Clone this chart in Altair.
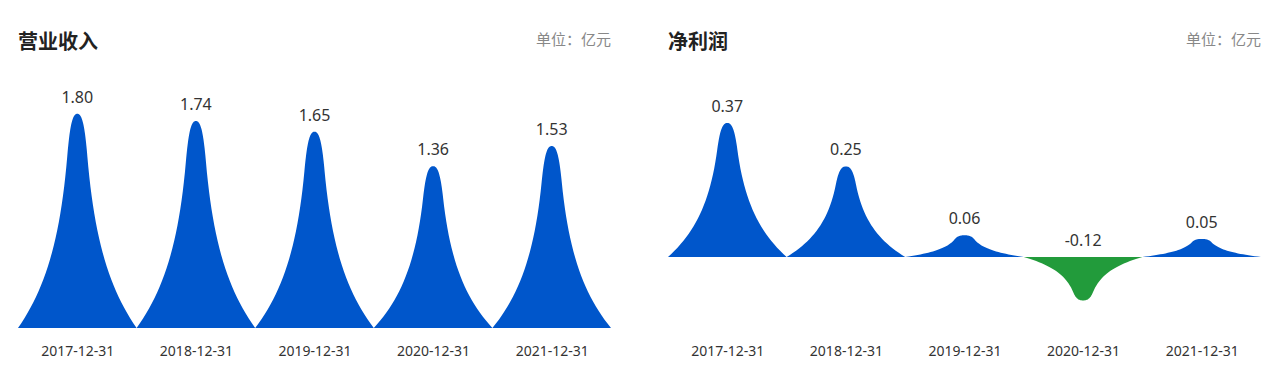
import altair as alt
import pandas as pd

# ---- data ----
dates = ["2017-12-31", "2018-12-31", "2019-12-31", "2020-12-31", "2021-12-31"]
revenue = [1.80, 1.74, 1.65, 1.36, 1.53]
profit = [0.37, 0.25, 0.06, -0.12, 0.05]
titles = ["营业收入", "净利润"]
unit_text = "单位：亿元"

# ---- style: spike outline as two cubic Bezier segments in
#      (fraction of half-width, fraction of height) space: base -> shoulder -> tip
SPIKE_SEGMENTS = [
    [(1.0, 0.0), (0.55, 0.18), (0.29, 0.404), (0.17, 0.8)],
    [(0.17, 0.8), (0.125, 0.9485), (0.08, 1.0), (0.0, 1.0)],
]
STEPS = 24

BLUE = "#0056CB"
GREEN = "#229B3B"
FONT = "Noto Sans, Noto Sans CJK SC"
CJK = "Noto Sans CJK SC"
W, H = 593, 238


def half_profile():
    pts = []
    for seg in SPIKE_SEGMENTS:
        (x0, y0), (x1, y1), (x2, y2), (x3, y3) = seg
        start = 0 if not pts else 1
        for k in range(start, STEPS + 1):
            t = k / STEPS
            a, b, c, d = (1 - t) ** 3, 3 * (1 - t) ** 2 * t, 3 * (1 - t) * t ** 2, t ** 3
            pts.append((a * x0 + b * x1 + c * x2 + d * x3, a * y0 + b * y1 + c * y2 + d * y3))
    return pts  # from base (u=1) to tip (u=0)


def spike_table(values):
    half = half_profile()
    outline = [(-u, h) for u, h in half] + [(u, h) for u, h in half[::-1][1:]]
    rows = []
    for i, v in enumerate(values):
        for u, h in outline:
            rows.append({"idx": i, "x": i + 0.5 * u, "y": v * h,
                         "sign": "pos" if v >= 0 else "neg"})
    return pd.DataFrame(rows)


label_expr = "[" + ",".join("'%s'" % d for d in dates) + "][round(datum.value)]"


def panel(title, values, domain):
    x_enc = alt.X("x:Q",
                  scale=alt.Scale(domain=[-0.5, 4.5], nice=False, zero=False),
                  axis=alt.Axis(values=list(range(len(dates))), labelExpr=label_expr,
                                title=None, ticks=False, domain=False, grid=False,
                                labelPadding=16, labelFontSize=14, labelColor="#333333",
                                labelFont=FONT))
    y_enc = alt.Y("y:Q", scale=alt.Scale(domain=domain, nice=False, zero=False), axis=None)

    area = alt.Chart(spike_table(values)).mark_area(interpolate="linear").encode(
        x=x_enc, y=y_enc, y2=alt.datum(0),
        detail="idx:N",
        color=alt.Color("sign:N", scale=alt.Scale(domain=["pos", "neg"], range=[BLUE, GREEN]),
                        legend=None),
    )

    lab_df = pd.DataFrame({"x": list(range(len(values))), "value": values,
                           "label": ["%.2f" % v for v in values]})
    labels = alt.Chart(lab_df).transform_calculate(
        y="max(datum.value, 0)"
    ).mark_text(baseline="bottom", dy=-8, fontSize=16, font=FONT, color="#333333").encode(
        x=x_enc, y=y_enc, text="label:N"
    )

    ttl = alt.Chart(pd.DataFrame({"t": [title]})).mark_text(
        align="left", baseline="middle", fontSize=20, fontWeight="bold", font=CJK,
        color="#222222"
    ).encode(text="t:N", x=alt.value(0), y=alt.value(-47))

    unit = alt.Chart(pd.DataFrame({"t": [unit_text]})).mark_text(
        align="right", baseline="middle", fontSize=15, font=CJK, color="#888888"
    ).encode(text="t:N", x=alt.value(W), y=alt.value(-50))

    return alt.layer(area, labels, ttl, unit).properties(width=W, height=H)


left = panel(titles[0], revenue, [0, 2.0])
right = panel(titles[1], profit, [-0.196, 0.461])

chart = alt.hconcat(left, right, spacing=57).properties(
    padding={"top": 25, "left": 10, "right": 5, "bottom": 5},
    background="white",
).configure_view(stroke=None)

chart.save("out.html", embed_options={"renderer": "svg", "actions": False})
